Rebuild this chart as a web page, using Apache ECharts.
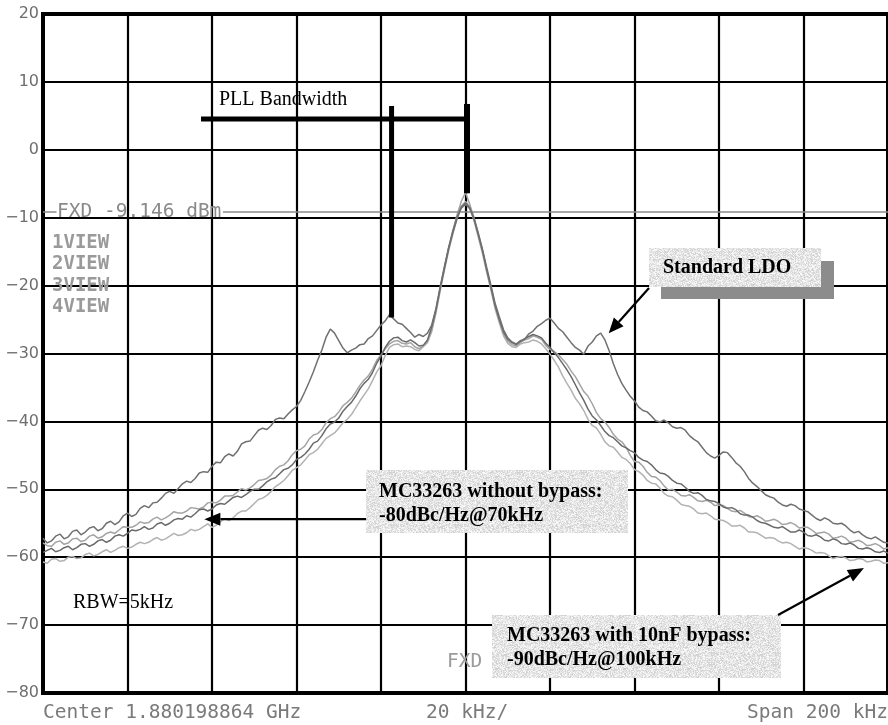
<!DOCTYPE html>
<html>
<head>
<meta charset="utf-8">
<script src="https://cdn.jsdelivr.net/npm/echarts@6/dist/echarts.min.js"></script>
<style>
  html, body { margin: 0; padding: 0; background: #ffffff; }
  #chart { width: 888px; height: 725px; }
</style>
</head>
<body>
<div id="chart"></div>
<script>
// Frequency offset from the carrier, kHz (20 kHz per division, 200 kHz span)
const freqKHz = [
  -100, -99, -98, -97, -96, -95, -94, -93, -92, -91,
  -90, -89, -88, -87, -86, -85, -84, -83, -82, -81,
  -80, -79, -78, -77, -76, -75, -74, -73, -72, -71,
  -70, -69, -68, -67, -66, -65, -64, -63, -62, -61,
  -60, -59, -58, -57, -56, -55, -54, -53, -52, -51,
  -50, -49, -48, -47, -46, -45, -44, -43, -42, -41,
  -40, -39, -38, -37, -36, -35, -34, -33, -32, -31,
  -30, -29, -28, -27, -26, -25, -24, -23, -22, -21,
  -20, -19, -18, -17, -16, -15, -14, -13, -12, -11,
  -10, -9, -8, -7, -6, -5, -4, -3, -2, -1,
  0, 1, 2, 3, 4, 5, 6, 7, 8, 9,
  10, 11, 12, 13, 14, 15, 16, 17, 18, 19,
  20, 21, 22, 23, 24, 25, 26, 27, 28, 29,
  30, 31, 32, 33, 34, 35, 36, 37, 38, 39,
  40, 41, 42, 43, 44, 45, 46, 47, 48, 49,
  50, 51, 52, 53, 54, 55, 56, 57, 58, 59,
  60, 61, 62, 63, 64, 65, 66, 67, 68, 69,
  70, 71, 72, 73, 74, 75, 76, 77, 78, 79,
  80, 81, 82, 83, 84, 85, 86, 87, 88, 89,
  90, 91, 92, 93, 94, 95, 96, 97, 98, 99,
  100
];

// Trace 1: standard LDO supply (dBm)
const standardLdo = [
  -57.2, -57.9, -57.6, -56.9, -56.6, -57.3, -57.0, -56.2, -56.0, -56.7,
  -56.3, -55.7, -55.5, -56.1, -55.8, -55.0, -54.7, -55.2, -54.8, -53.9,
  -53.5, -54.0, -53.7, -52.8, -52.4, -52.7, -52.0, -51.9, -51.3, -50.6,
  -50.3, -50.6, -49.9, -49.2, -48.8, -49.0, -48.4, -47.6, -47.4, -47.5,
  -46.6, -46.0, -46.1, -45.2, -44.8, -45.1, -44.4, -43.3, -43.0, -42.9,
  -42.1, -41.3, -41.0, -41.2, -40.6, -39.7, -39.5, -39.6, -38.9, -38.3,
  -37.8, -36.9, -35.6, -34.2, -32.7, -31.0, -29.5, -27.6, -26.4, -27.0,
  -28.1, -29.2, -29.9, -29.5, -29.2, -28.7, -28.6, -27.8, -27.4, -26.6,
  -25.8, -25.2, -24.3, -24.9, -25.5, -25.7, -26.3, -26.9, -27.6, -27.2,
  -27.5, -27.0, -25.8, -23.4, -20.2, -17.2, -14.4, -12.0, -9.9, -8.4,
  -7.8, -8.5, -10.0, -12.2, -14.6, -17.3, -19.9, -22.6, -24.6, -26.5,
  -27.7, -28.3, -28.6, -28.1, -27.9, -27.1, -26.7, -26.0, -25.6, -25.1,
  -24.8, -25.5, -26.3, -26.8, -27.6, -28.4, -29.1, -29.5, -30.1, -28.9,
  -28.3, -27.4, -27.0, -28.0, -29.6, -31.5, -33.1, -34.4, -35.4, -36.3,
  -37.0, -37.9, -38.4, -38.6, -39.2, -39.9, -40.1, -39.8, -40.2, -40.8,
  -41.0, -40.9, -41.3, -42.1, -42.6, -43.0, -43.8, -44.6, -45.1, -45.4,
  -45.0, -44.5, -44.6, -45.3, -46.1, -46.6, -47.4, -48.4, -49.1, -49.6,
  -50.2, -50.8, -51.1, -51.3, -51.9, -52.3, -52.5, -52.2, -52.4, -52.9,
  -53.1, -53.3, -53.8, -54.3, -54.6, -54.2, -54.5, -55.0, -55.1, -55.0,
  -55.4, -56.0, -56.4, -56.2, -56.7, -57.1, -57.3, -57.0, -57.4, -57.8,
  -57.9
];

// Trace 2: MC33263 without bypass capacitor (dBm)
const withoutBypass = [
  -59.3, -59.0, -58.7, -59.2, -59.0, -58.6, -58.4, -58.9, -58.6, -58.1,
  -58.0, -58.4, -58.1, -57.6, -57.4, -57.8, -57.5, -56.9, -56.7, -56.9,
  -56.5, -56.0, -56.1, -55.9, -55.5, -55.9, -55.7, -55.1, -54.9, -55.3,
  -55.0, -54.5, -54.3, -54.4, -53.9, -54.1, -53.6, -53.0, -52.9, -53.2,
  -52.9, -52.3, -52.1, -52.2, -51.7, -51.2, -51.0, -51.2, -50.8, -50.3,
  -50.0, -50.0, -49.5, -48.9, -48.5, -48.3, -47.7, -47.1, -46.9, -46.4,
  -45.6, -45.3, -44.8, -44.1, -43.2, -42.9, -42.1, -41.1, -40.4, -40.1,
  -39.5, -38.5, -37.8, -37.2, -36.3, -35.2, -34.4, -33.8, -32.8, -31.4,
  -30.4, -29.1, -28.2, -27.7, -27.6, -28.1, -28.3, -28.0, -28.4, -28.9,
  -28.8, -28.0, -26.1, -23.6, -20.4, -17.5, -14.6, -12.2, -10.1, -8.6,
  -8.0, -8.7, -10.2, -12.4, -14.8, -17.6, -20.2, -22.9, -25.0, -26.8,
  -27.9, -28.4, -28.7, -28.2, -27.8, -27.5, -27.2, -27.4, -27.7, -28.5,
  -29.1, -29.9, -30.6, -31.5, -32.4, -33.4, -34.6, -35.8, -36.9, -38.2,
  -39.2, -39.8, -40.6, -41.5, -42.1, -42.4, -43.0, -43.6, -43.9, -44.3,
  -44.6, -45.3, -45.7, -45.9, -46.4, -47.1, -47.6, -47.7, -48.1, -48.7,
  -49.1, -49.2, -49.7, -50.3, -50.6, -50.5, -50.9, -51.5, -51.7, -51.8,
  -52.1, -52.6, -52.8, -52.7, -53.0, -53.6, -53.8, -53.8, -54.1, -54.6,
  -54.9, -55.0, -55.3, -55.6, -55.7, -55.5, -55.9, -56.3, -56.3, -56.0,
  -56.3, -56.8, -56.9, -56.7, -57.0, -57.5, -57.6, -57.3, -57.5, -58.0,
  -58.1, -57.9, -58.2, -58.7, -58.8, -58.6, -58.8, -59.2, -59.3, -59.1,
  -59.4
];

// Trace 3: third stored view (dBm)
const viewThree = [
  -57.9, -58.3, -58.4, -57.8, -57.6, -58.1, -57.9, -57.3, -57.2, -57.7,
  -57.5, -56.9, -56.7, -57.2, -57.0, -56.5, -56.3, -56.5, -56.0, -55.5,
  -55.6, -55.6, -55.3, -54.8, -55.0, -54.9, -54.4, -54.1, -54.5, -54.2,
  -53.8, -53.3, -53.5, -53.5, -53.2, -52.7, -52.8, -52.9, -52.6, -52.0,
  -51.9, -52.0, -51.6, -51.0, -51.0, -50.9, -50.4, -49.9, -50.1, -49.8,
  -49.3, -48.7, -48.6, -48.4, -47.9, -47.1, -46.6, -46.4, -45.8, -44.9,
  -44.3, -44.1, -43.6, -42.6, -42.0, -41.8, -41.2, -40.2, -39.6, -39.3,
  -38.6, -37.7, -37.2, -36.6, -35.7, -34.7, -33.9, -33.3, -32.3, -31.0,
  -30.2, -29.3, -28.6, -28.2, -28.1, -28.5, -28.6, -28.4, -29.0, -29.3,
  -28.9, -28.2, -26.5, -23.8, -20.5, -17.4, -14.5, -11.9, -9.6, -7.6,
  -6.3, -8.0, -10.0, -12.5, -14.9, -17.7, -20.3, -23.1, -25.1, -27.1,
  -28.2, -28.7, -28.9, -28.4, -28.0, -27.8, -27.4, -27.6, -27.9, -28.8,
  -29.4, -29.7, -30.2, -30.9, -31.6, -32.6, -33.4, -34.5, -35.6, -36.3,
  -37.4, -38.7, -39.6, -40.1, -40.9, -41.9, -42.6, -43.0, -43.8, -45.0,
  -45.9, -46.0, -46.6, -47.5, -48.1, -48.2, -48.7, -49.5, -50.1, -50.0,
  -50.4, -50.9, -51.0, -50.8, -51.2, -51.7, -51.8, -51.6, -51.9, -52.4,
  -52.3, -52.4, -52.8, -53.2, -53.3, -53.1, -53.5, -54.0, -54.1, -53.9,
  -54.2, -54.7, -54.6, -54.4, -54.7, -55.2, -55.1, -54.9, -55.2, -55.7,
  -55.6, -55.6, -56.0, -56.5, -56.4, -56.3, -56.6, -57.2, -57.1, -56.9,
  -57.2, -57.8, -57.7, -57.5, -57.8, -58.3, -58.2, -58.0, -58.3, -58.8,
  -58.6
];

// Trace 4: MC33263 with 10 nF bypass capacitor (dBm)
const withBypass = [
  -60.7, -60.9, -60.3, -60.2, -60.6, -60.5, -60.0, -59.9, -60.2, -60.1,
  -59.6, -59.4, -59.8, -59.6, -59.2, -58.9, -59.3, -59.0, -58.6, -58.4,
  -58.7, -58.5, -58.1, -57.8, -58.0, -57.8, -57.4, -57.1, -57.5, -57.3,
  -56.9, -56.5, -56.8, -56.7, -56.4, -55.9, -56.1, -55.9, -55.5, -55.1,
  -55.6, -55.3, -54.8, -54.3, -54.6, -54.2, -53.6, -53.2, -53.2, -52.7,
  -52.1, -51.5, -51.3, -50.9, -50.3, -49.6, -49.2, -48.7, -48.0, -47.2,
  -46.8, -46.4, -45.7, -44.9, -44.6, -44.1, -43.3, -42.5, -42.1, -41.7,
  -41.0, -40.2, -39.7, -39.0, -38.0, -37.0, -36.1, -35.2, -34.0, -32.7,
  -31.8, -30.3, -29.1, -28.7, -28.6, -29.0, -28.9, -29.0, -29.4, -29.6,
  -29.0, -28.4, -26.8, -24.1, -20.8, -17.8, -14.9, -12.4, -10.2, -8.3,
  -7.6, -8.4, -10.4, -12.8, -15.2, -18.0, -20.6, -23.4, -25.5, -27.4,
  -28.5, -29.0, -29.1, -28.6, -28.4, -28.3, -28.0, -28.2, -28.6, -29.3,
  -30.1, -31.0, -32.0, -33.3, -34.4, -35.4, -36.6, -37.4, -38.4, -39.7,
  -40.6, -41.0, -41.9, -43.0, -43.6, -43.8, -44.5, -45.3, -45.6, -46.2,
  -47.1, -47.4, -47.9, -48.7, -49.1, -49.2, -49.8, -50.6, -51.0, -51.1,
  -51.6, -52.2, -52.4, -52.5, -52.9, -53.5, -53.6, -53.5, -53.9, -54.4,
  -54.5, -54.6, -54.9, -55.4, -55.4, -55.3, -55.7, -56.3, -56.3, -56.4,
  -56.8, -57.2, -57.1, -57.2, -57.6, -57.9, -57.8, -58.0, -58.4, -58.8,
  -58.6, -58.7, -59.0, -59.4, -59.3, -59.4, -59.8, -60.2, -60.0, -59.9,
  -60.1, -60.5, -60.4, -60.2, -60.3, -60.7, -60.6, -60.4, -60.5, -60.9,
  -60.8
];

// Reference level line (FXD) and axis settings
const fxdLevel = -9.146;
const yTicks = { min: -80, max: 20, step: 10 };
const xTicks = { min: -100, max: 100, step: 20 };

// Instrument read-outs
const viewLabels = ['1VIEW', '2VIEW', '3VIEW', '4VIEW'];
const footerLeft = 'Center 1.880198864 GHz';
const footerMid = '20 kHz/';
const footerRight = 'Span 200 kHz';
const fxdText = 'FXD -9.146 dBm';

function pairs(values) {
  return freqKHz.map((f, i) => [f, values[i]]);
}

const chart = echarts.init(document.getElementById('chart'), null, { renderer: 'canvas' });

const GRID = { left: 43, top: 14, width: 851, height: 679 };
const instrFont = '"DejaVu Sans Mono", monospace';
const serif = '"Liberation Serif", "Times New Roman", serif';

function traceSeries(name, values, color, z) {
  return {
    name: name,
    type: 'line',
    data: pairs(values),
    showSymbol: false,
    symbol: 'none',
    smooth: false,
    z: z,
    lineStyle: { color: color, width: 1.5 },
    itemStyle: { color: color },
    emphasis: { disabled: true },
    silent: true
  };
}

const series = [
  traceSeries('MC33263 with 10nF bypass', withBypass, '#b2b2b2', 2),
  traceSeries('View 3', viewThree, '#a4a4a4', 3),
  traceSeries('MC33263 without bypass', withoutBypass, '#6a6a6a', 4),
  traceSeries('Standard LDO', standardLdo, '#707070', 5)
];

// FXD reference level, interrupted where its read-out is printed
series[0].markLine = {
  silent: true,
  symbol: 'none',
  label: { show: false },
  lineStyle: { color: '#8a8a8a', width: 1.5, type: 'solid' },
  data: [
    [{ coord: [-100, fxdLevel] }, { coord: [-96.8, fxdLevel] }],
    [{ coord: [-57.4, fxdLevel] }, { coord: [100, fxdLevel] }]
  ]
};

chart.setOption({
  animation: false,
  backgroundColor: '#ffffff',
  grid: {
    left: GRID.left, top: GRID.top, width: GRID.width, height: GRID.height,
    show: true, borderColor: '#000', borderWidth: 4, backgroundColor: 'transparent'
  },
  xAxis: {
    type: 'value',
    min: xTicks.min, max: xTicks.max, interval: xTicks.step,
    axisLine: { show: false },
    axisTick: { show: false },
    axisLabel: { show: false },
    splitLine: { show: true, lineStyle: { color: '#000', width: 2.2 } }
  },
  yAxis: {
    type: 'value',
    min: yTicks.min, max: yTicks.max, interval: yTicks.step,
    axisLine: { show: false },
    axisTick: { show: false },
    axisLabel: {
      show: true, margin: 4, color: '#6e6e6e',
      fontFamily: '"DejaVu Sans", sans-serif', fontSize: 16,
      formatter: v => String(v).replace('-', '\u2212')
    },
    splitLine: { show: true, lineStyle: { color: '#000', width: 2.2 } }
  },
  series: series
});

// --- annotations --------------------------------------------------------
function px(x, y) {
  return chart.convertToPixel({ gridIndex: 0 }, [x, y]);
}

// speckled grey fill for the call-out boxes
function speckle() {
  const c = document.createElement('canvas');
  c.width = 64; c.height = 64;
  const g = c.getContext('2d');
  const img = g.createImageData(64, 64);
  for (let j = 0; j < 64; j++) {
    for (let i = 0; i < 64; i++) {
      const h = Math.sin(i * 12.9898 + j * 78.233) * 43758.5453;
      const t = h - Math.floor(h);
      const v = Math.round(206 + t * 46);
      const k = (j * 64 + i) * 4;
      img.data[k] = v; img.data[k + 1] = v; img.data[k + 2] = v; img.data[k + 3] = 255;
    }
  }
  g.putImageData(img, 0, 0);
  return { image: c, repeat: 'repeat' };
}
const boxFill = speckle();

function arrow(x1, y1, x2, y2, headLen, headHalf) {
  const dx = x2 - x1, dy = y2 - y1;
  const len = Math.sqrt(dx * dx + dy * dy);
  const ux = dx / len, uy = dy / len;
  const bx = x2 - ux * headLen, by = y2 - uy * headLen;
  return [
    { type: 'line', z: 20, shape: { x1: x1, y1: y1, x2: bx, y2: by },
      style: { stroke: '#000', lineWidth: 2.2 } },
    { type: 'polygon', z: 20,
      shape: { points: [[x2, y2], [bx - uy * headHalf, by + ux * headHalf], [bx + uy * headHalf, by - ux * headHalf]] },
      style: { fill: '#000' } }
  ];
}

function text(str, x, y, font, fill, align, z) {
  return {
    type: 'text', z: z || 25, x: x, y: y, silent: true,
    style: { text: str, font: font, fill: fill, align: align || 'left', verticalAlign: 'middle' }
  };
}

const g = [];

// PLL loop-bandwidth bracket
const hL = px(-62.6, 4.55), hR = px(0.9, 4.55);
g.push({ type: 'line', z: 20, shape: { x1: hL[0], y1: hL[1], x2: hR[0], y2: hR[1] }, style: { stroke: '#000', lineWidth: 5 } });
const v1t = px(-17.5, 6.45), v1b = px(-17.5, -24.7);
g.push({ type: 'line', z: 20, shape: { x1: v1t[0], y1: v1t[1], x2: v1b[0], y2: v1b[1] }, style: { stroke: '#000', lineWidth: 5 } });
const v2t = px(0.35, 6.75), v2b = px(0.35, -6.4);
g.push({ type: 'line', z: 20, shape: { x1: v2t[0], y1: v2t[1], x2: v2b[0], y2: v2b[1] }, style: { stroke: '#000', lineWidth: 6 } });
g.push(text('PLL Bandwidth', 219, 100, '20px ' + serif, '#000'));

// Standard LDO call-out with drop shadow
g.push({ type: 'rect', z: 18, shape: { x: 661, y: 261, width: 173, height: 38 }, style: { fill: '#8c8c8c' } });
g.push({ type: 'rect', z: 19, shape: { x: 649, y: 248, width: 172, height: 39 }, style: { fill: boxFill } });
g.push(text('Standard LDO', 663, 268, 'bold 20px ' + serif, '#000'));
const ldoTip = px(33.9, -27.0);
g.push(...arrow(649, 288, ldoTip[0], ldoTip[1], 15, 6.5));

// MC33263 without bypass call-out
g.push({ type: 'rect', z: 19, shape: { x: 366, y: 470, width: 262, height: 63 }, style: { fill: boxFill } });
g.push(text('MC33263 without bypass:', 379, 492, 'bold 20px ' + serif, '#000'));
g.push(text('-80dBc/Hz@70kHz', 379, 516, 'bold 20px ' + serif, '#000'));
const nbTip = px(-61.8, -54.4);
g.push(...arrow(366, nbTip[1], nbTip[0], nbTip[1], 16, 6.5));

// MC33263 with bypass call-out
g.push({ type: 'rect', z: 19, shape: { x: 492, y: 615, width: 289, height: 63 }, style: { fill: boxFill } });
g.push(text('MC33263 with 10nF bypass:', 507, 636, 'bold 20px ' + serif, '#000'));
g.push(text('-90dBc/Hz@100kHz', 507, 660, 'bold 20px ' + serif, '#000'));
const wbTip = px(94.3, -61.6);
g.push(...arrow(778, 615, wbTip[0], wbTip[1], 16, 6.5));

// resolution bandwidth note
g.push(text('RBW=5kHz', 73, 603, '20px ' + serif, '#000'));

// instrument read-outs
const fxdY = px(0, fxdLevel)[1];
g.push(text(fxdText, 57, fxdY, '19.5px ' + instrFont, '#8a8a8a'));
viewLabels.forEach((s, i) => {
  g.push(text(s, 52, 243 + i * 21.5, 'bold 19px ' + instrFont, '#9a9a9a'));
});
g.push(text('FXD', 447, 662, '19.5px ' + instrFont, '#9a9a9a'));
g.push(text(footerLeft, 43, 713, '19.5px ' + instrFont, '#7a7a7a'));
g.push(text(footerMid, 426, 713, '19.5px ' + instrFont, '#7a7a7a'));
g.push(text(footerRight, 747, 713, '19.5px ' + instrFont, '#7a7a7a'));

chart.setOption({ graphic: { elements: g } });
</script>
</body>
</html>
